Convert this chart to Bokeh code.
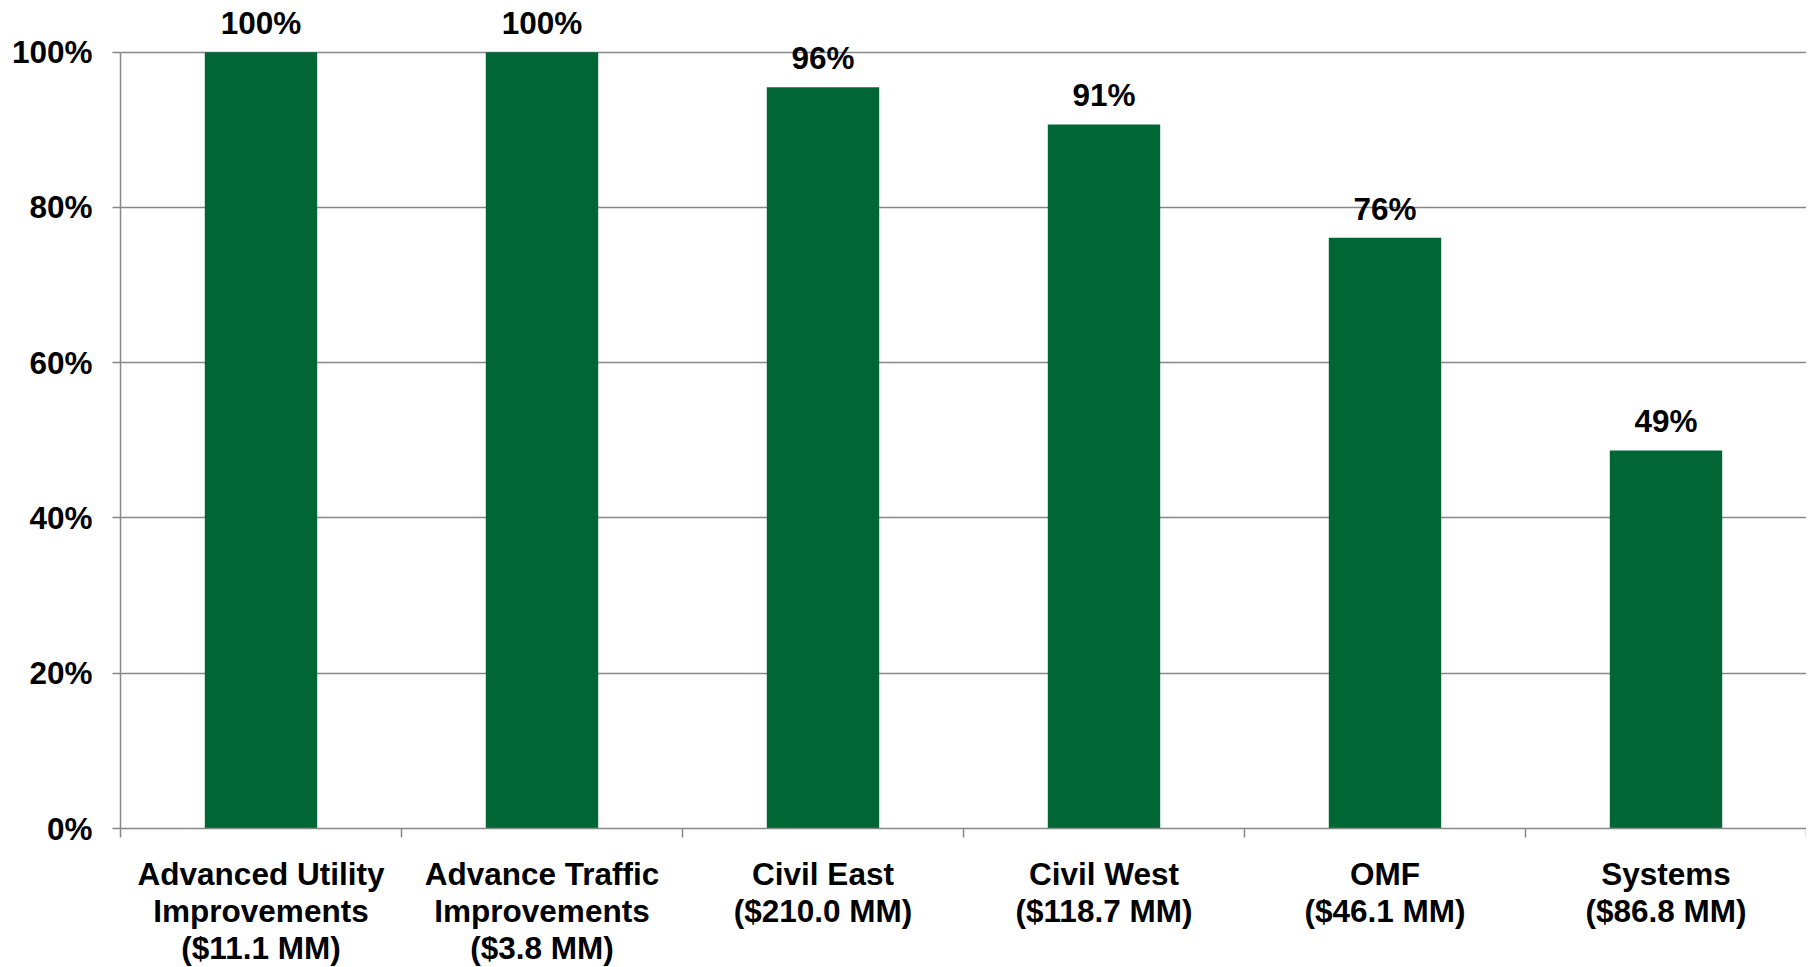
from bokeh.plotting import figure
from bokeh.models import (ColumnDataSource, Range1d, FactorRange, LinearAxis, CategoricalAxis,
                          FixedTicker, CustomLabelingPolicy, Grid)
from bokeh.core.properties import value
from bokeh.embed import file_html
from bokeh.resources import INLINE

# ---- data ----
categories = [
    "Advanced Utility\nImprovements\n($11.1 MM)",
    "Advance Traffic\nImprovements\n($3.8 MM)",
    "Civil East\n($210.0 MM)",
    "Civil West\n($118.7 MM)",
    "OMF\n($46.1 MM)",
    "Systems\n($86.8 MM)",
]
completion = [1.00, 1.00, 0.955, 0.907, 0.761, 0.487]
completion_labels = ["100%", "100%", "96%", "91%", "76%", "49%"]
y_ticks = [0.0, 0.2, 0.4, 0.6, 0.8, 1.0]
y_tick_labels = ["0%", "20%", "40%", "60%", "80%", "100%"]

# ---- style ----
FONT = "Liberation Sans"
FSIZE = "31.5px"
GRAY = "#878787"
GREEN = "#006633"

src = ColumnDataSource(dict(cat=categories, val=completion, lab=completion_labels))

p = figure(
    x_range=FactorRange(*categories),
    y_range=Range1d(0, 1.0563),
    frame_width=1686, frame_height=820,
    output_backend="svg", toolbar_location=None,
    x_axis_location=None,
    min_border_left=120, min_border_right=0, min_border_top=8, min_border_bottom=139,
    background_fill_color="white", border_fill_color="white",
)
p.outline_line_color = None
for r in p.center:
    if isinstance(r, Grid) and r.dimension == 0:
        r.visible = False

p.vbar(x="cat", top="val", width=0.4, source=src, fill_color=GREEN, line_color=None)
p.text(x="cat", y="val", text="lab", source=src, text_align="center",
       text_baseline="alphabetic", y_offset=-29,
       text_font=value(FONT), text_font_style="bold", text_font_size=FSIZE,
       text_color="black")

# y axis
yt = FixedTicker(ticks=y_ticks)
ya = p.yaxis[0]
ya.ticker = yt
ya.major_label_overrides = {t: l for t, l in zip(y_ticks, y_tick_labels)}
ya.bounds = (0, 1)
ya.axis_line_color = GRAY
ya.axis_line_width = 1.5
ya.major_tick_line_color = GRAY
ya.major_tick_line_width = 1.5
ya.major_tick_out = 8
ya.major_tick_in = 0
ya.minor_tick_line_color = None
ya.major_label_standoff = 20
ya.major_label_text_font = FONT
ya.major_label_text_font_style = "bold"
ya.major_label_text_font_size = FSIZE
ya.major_label_text_color = "black"

p.ygrid.ticker = yt
p.ygrid.grid_line_color = GRAY
p.ygrid.grid_line_width = 1.5

# boundary ticks axis (ticks between categories, synthetic coordinates), no labels
hide_all = CustomLabelingPolicy(code="""
for (const i of indices) indices.unset(i)
return indices
""")
tick_axis = LinearAxis(
    ticker=FixedTicker(ticks=list(range(len(categories) + 1))),
    major_label_policy=hide_all,
    major_label_text_font_size="1px",
    major_label_standoff=0,
    major_tick_out=9, major_tick_in=0,
    minor_tick_line_color=None,
    axis_line_color=GRAY, axis_line_width=1.5,
    major_tick_line_color=GRAY, major_tick_line_width=1.5,
)
p.add_layout(tick_axis, "below")

cat_axis = CategoricalAxis(
    axis_line_color=None, major_tick_line_color=None,
    major_tick_out=0, major_tick_in=0,
    major_label_standoff=14,
    major_label_text_font=FONT, major_label_text_font_style="bold",
    major_label_text_font_size=FSIZE, major_label_text_color="black",
    major_label_text_line_height=1.03,
)
p.add_layout(cat_axis, "below")

open("out.html", "w").write(file_html(p, INLINE))
